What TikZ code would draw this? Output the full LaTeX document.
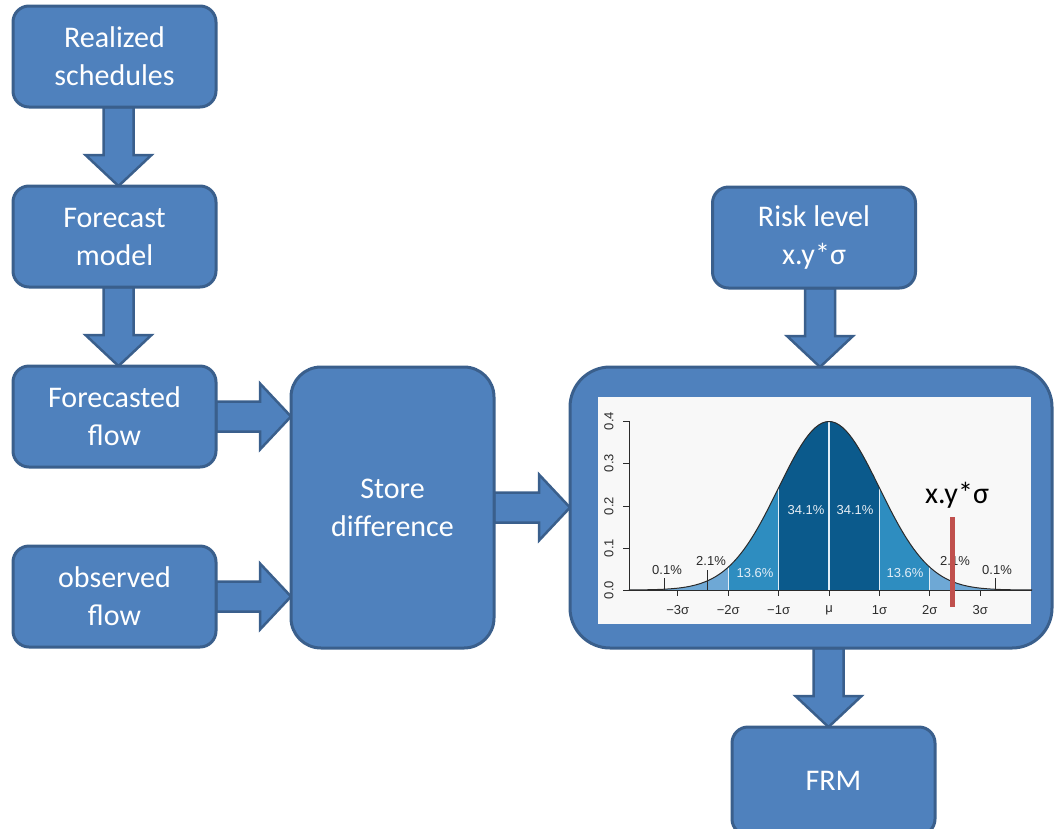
\documentclass[tikz,border=0pt]{standalone}
\usepackage{fontspec}
\setmainfont{Carlito}
\newfontfamily\plotfont{Liberation Sans}
\usetikzlibrary{positioning,backgrounds,calc}

\definecolor{boxblue}{HTML}{4F81BD}
\definecolor{boxline}{HTML}{3A5F8C}
\definecolor{bandA}{HTML}{0B5A8C}
\definecolor{bandB}{HTML}{2E8DC0}
\definecolor{bandC}{HTML}{6EA8D5}
\definecolor{riskred}{HTML}{C0504D}
\definecolor{plotbg}{HTML}{F8F8F8}
\definecolor{axisgray}{HTML}{2B2B2B}

\tikzset{
  block/.style={rectangle, rounded corners=16pt, draw=boxline, fill=boxblue,
    line width=3pt, outer sep=0pt, text=white, align=center,
    minimum width=203pt, minimum height=101pt,
    font=\fontsize{30}{38}\selectfont},
  flowarrow/.style={draw=boxline, fill=boxblue, line width=2.5pt},
  pct/.style={font=\plotfont\fontsize{13}{13}\selectfont, text=axisgray, inner sep=0pt},
}

% fat block arrow from #1 to #2
\newcommand{\fatarrow}[2]{%
  \draw[flowarrow] let \p1=(#1), \p2=(#2),
    \n1={atan2(\y2-\y1,\x2-\x1)}, \n2={veclen(\x2-\x1,\y2-\y1)-31} in
    ($(\p1)+(\n1+90:15pt)$) -- ($(\p1)+(\n1:\n2)+(\n1+90:15pt)$)
    -- ($(\p1)+(\n1:\n2)+(\n1+90:33pt)$) -- (\p2)
    -- ($(\p1)+(\n1:\n2)+(\n1-90:33pt)$)
    -- ($(\p1)+(\n1:\n2)+(\n1-90:15pt)$)
    -- ($(\p1)+(\n1-90:15pt)$) -- cycle;}

\begin{document}
\begin{tikzpicture}[x=1pt, y=-1pt, node distance=79pt,
  declare function={gx(\t)=829+50.4*\t; gy(\t)=590-168.5*exp(-0.5*(\t)*(\t));}]
\useasboundingbox (0,0) rectangle (1055,828);
\node[block] (realized) at (114.5,56.5) {Realized\\schedules};
\node[block, below=of realized] (forecast) {Forecast\\model};
\node[block, below=of forecast] (flowf)    {Forecasted\\flow};
\node[block, below=of flowf]    (flowo)    {observed\\flow};
\node[block, minimum height=281pt, rounded corners=30pt] (store) at (392.5,507.5) {Store\\difference};
\node[block, right=76pt of store, minimum width=482pt, minimum height=281pt,
      rounded corners=40pt] (chart) {};
\node[block, above=of chart, xshift=3pt]    (risk) {Risk level\\x.y*σ};
\node[block, below=of chart, xshift=22.5pt, minimum height=108pt] (frm)  {FRM};

\begin{scope}[on background layer]
  \fatarrow{[xshift=4pt]realized.south}{[xshift=4pt]forecast.north}
  \fatarrow{[xshift=4pt]forecast.south}{[xshift=4pt]flowf.north}
  \fatarrow{flowf.east}{flowf.east -| store.west}
  \fatarrow{flowo.east}{flowo.east -| store.west}
  \fatarrow{store.east}{store.east -| chart.west}
  \fatarrow{[xshift=6pt]risk.south}{$(risk.south |- chart.north)+(6pt,0)$}
  \fatarrow{$(frm.north |- chart.south)+(-5pt,0)$}{[xshift=-5pt]frm.north}
\end{scope}

% normal curve inside the chart box
\fill[plotbg] (598,397) rectangle (1031,624);
\foreach \a/\b/\c in {-3.97/-2/bandC, -2/-1/bandB, -1/1/bandA, 1/2/bandB, 2/4.03/bandC}
  \fill[\c] ({gx(\a)},590) -- plot[domain=\a:\b, samples=40] ({gx(\x)},{gy(\x)})
    -- ({gx(\b)},590) -- cycle;
\foreach \s in {-2,-1,0,1,2}
  \draw[white!80!bandC, line width=1.2pt] ({gx(\s)},590) -- ({gx(\s)},{gy(\s)});
\draw[axisgray, line width=1pt] plot[domain=-3.97:4.03, samples=120] ({gx(\x)},{gy(\x)});
\draw[axisgray, line width=1pt] (629,421) -- (629,590) -- (1032,590);
\foreach \v/\yy in {0.0/590, 0.1/548, 0.2/506, 0.3/463, 0.4/421} {
  \draw[axisgray, line width=1pt] (629,\yy) -- (623,\yy);
  \node[pct, rotate=90] (ytick\v) at (609,\yy) {\v};
}
\foreach \t/\lab in {-3/−3σ, -2/−2σ, -1/−1σ, 0/μ, 1/1σ, 2/2σ, 3/3σ} {
  \draw[axisgray, line width=1pt] ({gx(\t)},590) -- ({gx(\t)},596);
  \node[pct] (xtick\t) at ({gx(\t)},610) {\lab};
}
\foreach \tx/\ty in {664/578, 707/570, 951/570, 995/578}
  \draw[axisgray, line width=1pt] (\tx,590) -- (\tx,\ty);
\node[pct] (pa) at (667,570) {0.1\%};
\node[pct] (pb) at (711,561) {2.1\%};
\node[pct, text=white!80!bandC] (pc) at (755,573) {13.6\%};
\node[pct, text=white!90!bandA] (pd) at (806,510) {34.1\%};
\node[pct, text=white!90!bandA] (pe) at (855,510) {34.1\%};
\node[pct, text=white!80!bandC] (pf) at (905,573) {13.6\%};
\node[pct] (pg) at (955,561) {2.1\%};
\node[pct] (ph) at (997,570) {0.1\%};
\fill[riskred] (949.5,517) rectangle (954.5,607);
\node[font=\fontsize{30}{36}\selectfont, inner sep=0pt] (sigmalabel) at (957,495) {x.y*σ};
\end{tikzpicture}
\end{document}
